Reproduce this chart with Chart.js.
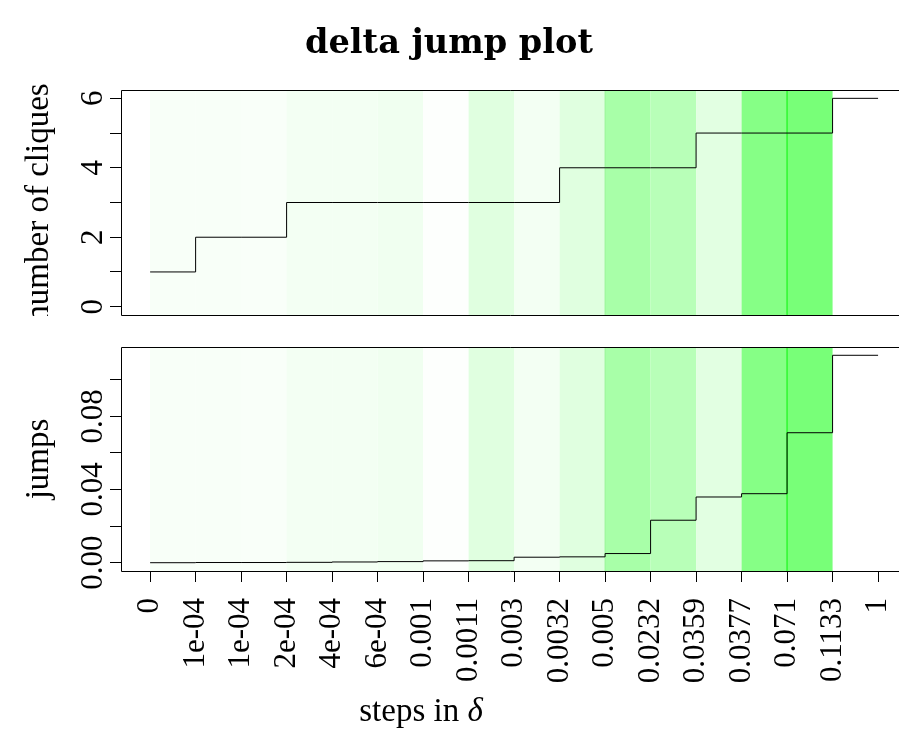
<!DOCTYPE html>
<html><head><meta charset="utf-8">
<script src="https://cdn.jsdelivr.net/npm/chart.js@4.4.1/dist/chart.umd.min.js"></script>
<style>
html,body{margin:0;padding:0;background:#fff;overflow:hidden;width:899px;height:736px}
canvas{position:absolute;left:0}
#c1{top:0}
#c2{top:330px}
</style></head><body>
<canvas id="c1" width="899" height="330"></canvas>
<canvas id="c2" width="899" height="406"></canvas>
<script>
// ---- data ----
const stepLabels = ['0','1e-04','1e-04','2e-04','4e-04','6e-04','0.001','0.0011','0.003','0.0032','0.005','0.0232','0.0359','0.0377','0.071','0.1133','1'];
const cliques = [1,2,2,3,3,3,3,3,3,4,4,4,5,5,5,6,6];
const jumps = [0,0.0001,0.0001,0.0002,0.0004,0.0006,0.001,0.0011,0.003,0.0032,0.005,0.0232,0.0359,0.0377,0.071,0.1133,0.1133];
const cliqueTicks = [0,1,2,3,4,5,6];
const cliqueTickLabels = ['0','','2','','4','','6'];
const jumpTicks = [0,0.02,0.04,0.06,0.08,0.10];
const jumpTickLabels = ['0.00','','0.04','','0.08',''];

// ---- styles ----
const bandColors = ['#f8fff8','#f8fff8','#f9fff9','#f3fff3','#f3fff3','#f0fff0','#fdfffd','#e0ffe0','#f3fff3','#e0ffe0','#a8ffa8','#b8ffb8','#e2ffe2','#86ff86','#78ff78',null];
const bandEdges = [{at:10,color:'#98f598',w:1},{at:14,color:'#30f830',w:1.5}];
const SERIF = '"Liberation Serif", "Times New Roman", serif';

function bandPlugin(){
  return {id:'bands', beforeDatasetsDraw(chart){
    const {ctx, chartArea:a, scales:{x}} = chart;
    ctx.save();
    bandColors.forEach((c,i)=>{
      if(!c) return;
      const x0 = x.getPixelForValue(i), x1 = x.getPixelForValue(i+1);
      ctx.fillStyle = c;
      ctx.fillRect(x0, a.top, x1-x0, a.bottom-a.top);
    });
    bandEdges.forEach(e=>{
      const px = x.getPixelForValue(e.at);
      ctx.strokeStyle = e.color; ctx.lineWidth = e.w;
      ctx.beginPath(); ctx.moveTo(px, a.top); ctx.lineTo(px, a.bottom); ctx.stroke();
    });
    ctx.restore();
  }};
}
function framePlugin(ticks, labels, title, clipBottom){
  return {id:'frame', afterDraw(chart){
    const {ctx, chartArea:a, scales:{y}} = chart;
    ctx.save();
    ctx.strokeStyle = '#000'; ctx.lineWidth = 1;
    const L = Math.round(a.left)+0.5, T = Math.round(a.top)+0.5, B = Math.round(a.bottom)+0.5;
    ctx.beginPath(); ctx.moveTo(chart.width, T); ctx.lineTo(L, T); ctx.lineTo(L, B); ctx.lineTo(chart.width, B); ctx.stroke();
    ctx.fillStyle = '#000';
    ctx.font = '31px ' + SERIF;
    ctx.textAlign = 'center'; ctx.textBaseline = 'alphabetic';
    ticks.forEach((v,i)=>{
      if(!labels[i]) return;
      ctx.save(); ctx.translate(102, y.getPixelForValue(v)); ctx.rotate(-Math.PI/2);
      ctx.fillText(labels[i], 0, 0); ctx.restore();
    });
    ctx.save();
    ctx.beginPath(); ctx.rect(0,0,chart.width,clipBottom); ctx.clip();
    ctx.font = '33px ' + SERIF;
    ctx.translate(48, (a.top+a.bottom)/2); ctx.rotate(-Math.PI/2);
    ctx.fillText(title, 0, 0);
    ctx.restore();
    ctx.restore();
  }};
}

const commonX = {type:'linear', min:-0.64, max:16.46};

new Chart(document.getElementById('c1'), {
  type:'line',
  data:{datasets:[{data: cliques.map((v,i)=>({x:i,y:v})), stepped:true, borderColor:'#000', borderWidth:1, pointRadius:0, fill:false}]},
  options:{
    responsive:false, animation:false, events:[],
    layout:{padding:{top:90,bottom:15,left:0,right:0}},
    plugins:{legend:{display:false}, tooltip:{enabled:false}},
    scales:{
      x:Object.assign({display:false}, commonX),
      y:{type:'linear', min:-0.24, max:6.24,
         afterFit(s){s.width=121; s.paddingTop=0; s.paddingBottom=0;},
         afterBuildTicks(s){s.ticks=cliqueTicks.map(v=>({value:v}));},
         ticks:{display:false},
         grid:{drawOnChartArea:false, drawTicks:true, tickLength:11, color:'#000', tickColor:'#000', lineWidth:1},
         border:{display:false}}
    }
  },
  plugins:[bandPlugin(), framePlugin(cliqueTicks, cliqueTickLabels, 'number of cliques', 316), {
    id:'title', afterDraw(chart){
      const ctx = chart.ctx; ctx.save();
      ctx.fillStyle = '#000'; ctx.textAlign = 'center'; ctx.textBaseline = 'alphabetic';
      ctx.font = 'bold 100px "DejaVu Serif", serif';
      const w = ctx.measureText('delta jump plot').width;
      const size = 100 * 288 / w;
      ctx.font = 'bold ' + size.toFixed(1) + 'px "DejaVu Serif", serif';
      ctx.fillText('delta jump plot', 449, 53);
      ctx.restore();
    }}]
});

new Chart(document.getElementById('c2'), {
  type:'line',
  data:{datasets:[{data: jumps.map((v,i)=>({x:i,y:v})), stepped:true, borderColor:'#000', borderWidth:1, pointRadius:0, fill:false}]},
  options:{
    responsive:false, animation:false, events:[],
    layout:{padding:{top:17,bottom:0,left:0,right:0}},
    plugins:{legend:{display:false}, tooltip:{enabled:false}},
    scales:{
      x:Object.assign({
         afterFit(s){s.height=165; s.paddingLeft=0; s.paddingRight=0;},
         afterBuildTicks(s){s.ticks=stepLabels.map((_,i)=>({value:i}));},
         ticks:{autoSkip:false, minRotation:90, maxRotation:90, padding:16, color:'#000',
                font:{family:SERIF, size:31}, callback:(v)=>stepLabels[Math.round(v)]},
         grid:{drawOnChartArea:false, drawTicks:true, tickLength:11, color:'#000', tickColor:'#000', lineWidth:1},
         border:{display:false}}, commonX),
      y:{type:'linear', min:-0.004532, max:0.117832,
         afterFit(s){s.width=121; s.paddingTop=0; s.paddingBottom=0;},
         afterBuildTicks(s){s.ticks=jumpTicks.map(v=>({value:v}));},
         ticks:{display:false},
         grid:{drawOnChartArea:false, drawTicks:true, tickLength:11, color:'#000', tickColor:'#000', lineWidth:1},
         border:{display:false}}
    }
  },
  plugins:[bandPlugin(), framePlugin(jumpTicks, jumpTickLabels, 'jumps', 406), {
    id:'xtitle', afterDraw(chart){
      const ctx = chart.ctx; ctx.save();
      ctx.fillStyle = '#000'; ctx.textBaseline = 'alphabetic'; ctx.textAlign = 'left';
      const f1 = '33px ' + SERIF, f2 = 'italic 33px ' + SERIF;
      ctx.font = f1; const w1 = ctx.measureText('steps in ').width;
      ctx.font = f2; const w2 = ctx.measureText('\u03b4').width;
      const x0 = 421 - (w1+w2)/2;
      ctx.font = f1; ctx.fillText('steps in ', x0, 391);
      ctx.font = f2; ctx.fillText('\u03b4', x0 + w1, 391);
      ctx.restore();
    }}]
});
</script>
</body></html>
